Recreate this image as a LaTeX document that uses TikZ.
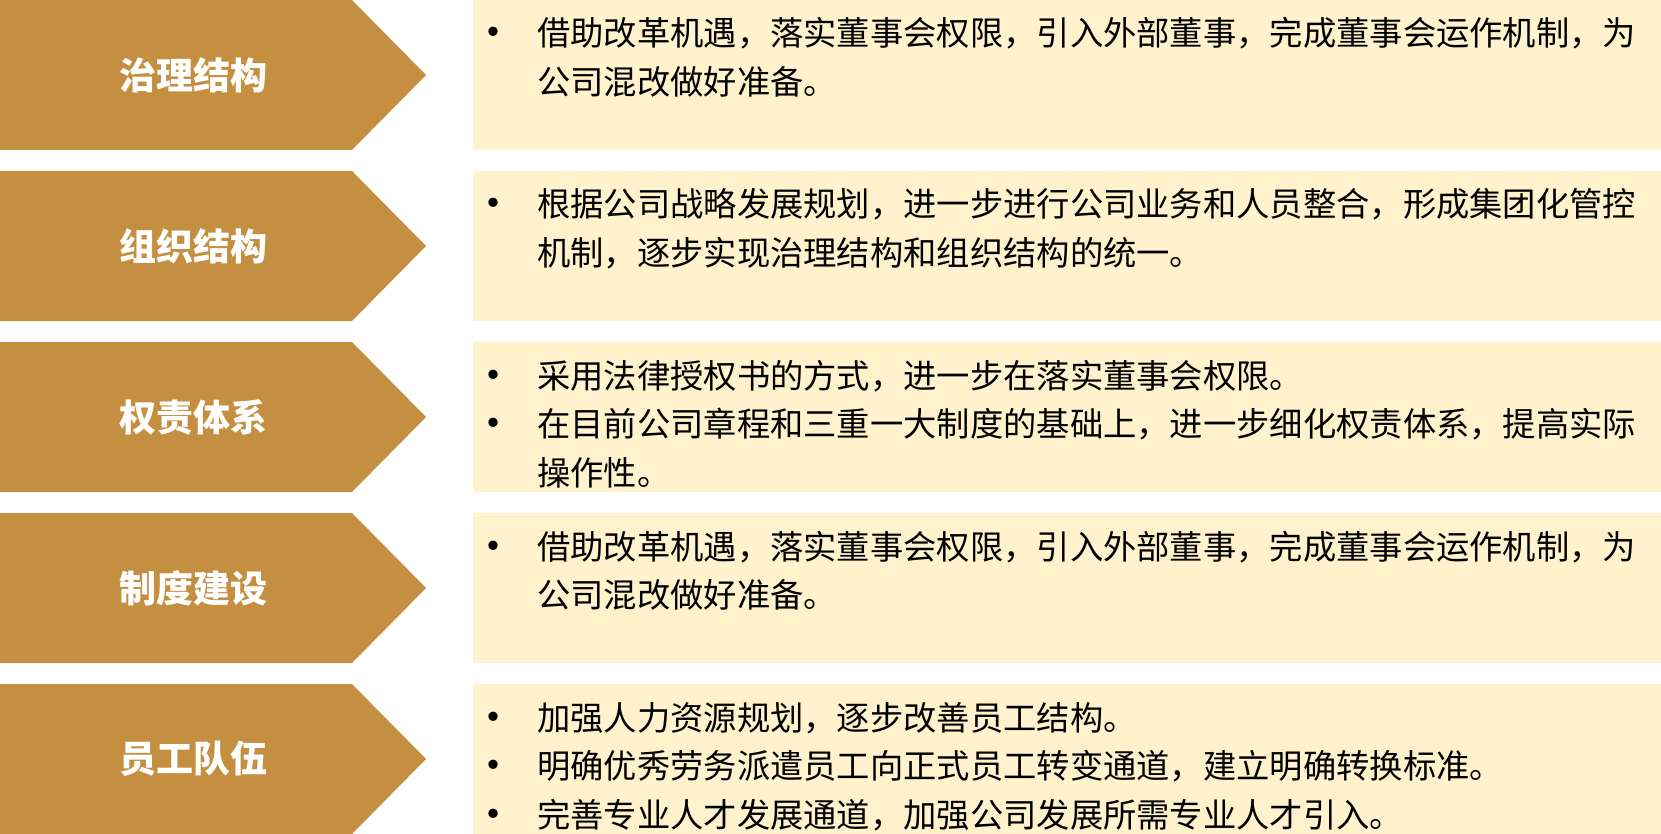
\documentclass[tikz,border=0pt]{standalone}
\usepackage{fontspec}
\setmainfont{Noto Sans CJK SC}
\usetikzlibrary{positioning}
\definecolor{gold}{HTML}{C48F41}
\definecolor{cream}{HTML}{FFF2CC}
\tikzset{
  label/.style={text=white,font=\fontsize{37}{40}\selectfont\bfseries,inner sep=0pt},
  line/.style={anchor=base west,inner sep=0pt,font=\fontsize{33.3}{40}\selectfont},
  dot/.style={anchor=base,inner sep=0pt,font=\fontsize{44}{40}\selectfont}
}
\begin{document}
\begin{tikzpicture}[x=1pt,y=-1pt]
\useasboundingbox (0,0) rectangle (1661,834);
\foreach \r/\name in {0/治理结构,1/组织结构,2/权责体系,3/制度建设,4/员工队伍}
  {
  \fill[gold] (0,\r*171) -- (352,\r*171) -- (426,\r*171+75) -- (352,\r*171+150) -- (0,\r*171+150) -- cycle;
  \fill[cream] (473,\r*171) rectangle (1661,\r*171+150);
  \node[label] (tag-\r) at (193,\r*171+75) {\name};
  }
% text lines: row / line / bullet / text
\foreach \r/\k/\b/\t in {
  0/0/1/{借助改革机遇，落实董事会权限，引入外部董事，完成董事会运作机制，为},
  0/1/0/{公司混改做好准备。},
  1/0/1/{根据公司战略发展规划，进一步进行公司业务和人员整合，形成集团化管控},
  1/1/0/{机制，逐步实现治理结构和组织结构的统一。},
  2/0/1/{采用法律授权书的方式，进一步在落实董事会权限。},
  2/1/1/{在目前公司章程和三重一大制度的基础上，进一步细化权责体系，提高实际},
  2/2/0/{操作性。},
  3/0/1/{借助改革机遇，落实董事会权限，引入外部董事，完成董事会运作机制，为},
  3/1/0/{公司混改做好准备。},
  4/0/1/{加强人力资源规划，逐步改善员工结构。},
  4/1/1/{明确优秀劳务派遣员工向正式员工转变通道，建立明确转换标准。},
  4/2/1/{完善专业人才发展通道，加强公司发展所需专业人才引入。}}
  {
  \node[line] (txt-\r-\k) at (537,\r*171+46+\k*48.5) {\t};
  \ifnum\b=1 \node[dot] (dot-\r-\k) at (493,\r*171+49+\k*48.5) {•}; \fi
  }
\end{tikzpicture}
\end{document}
